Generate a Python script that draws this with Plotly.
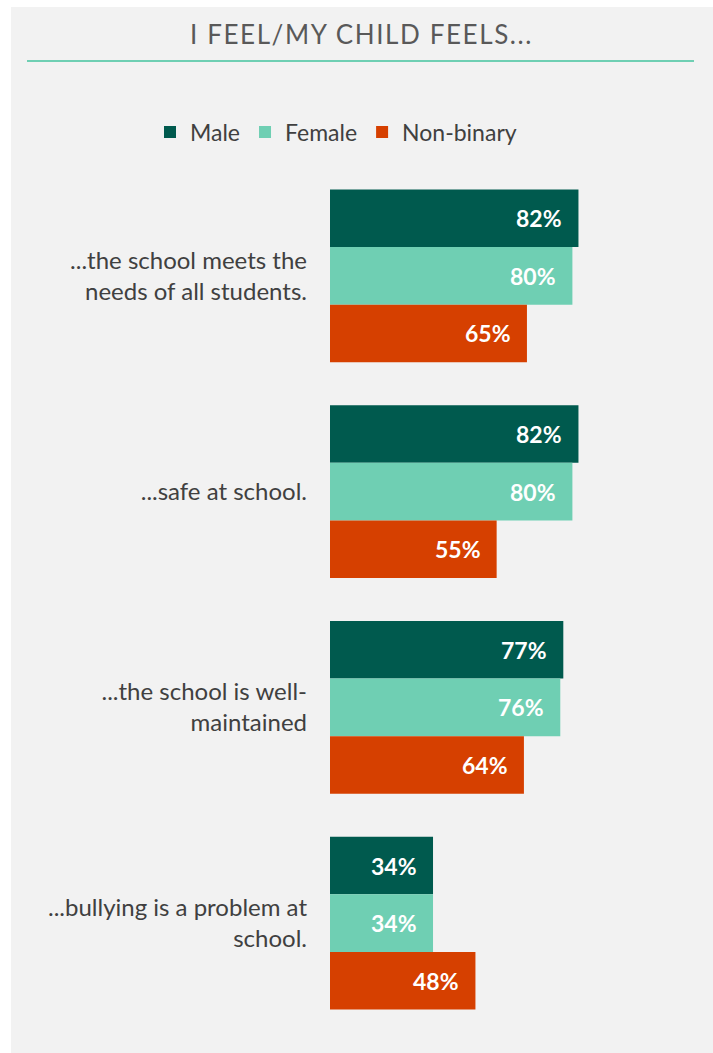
import plotly.graph_objects as go

categories = ["...the school meets the<br>needs of all students.",
              "...safe at school.",
              "...the school is well-<br>maintained",
              "...bullying is a problem at<br>school."]
series_names = ["Male", "Female", "Non-binary"]
male = [82, 82, 77, 34]
female = [80, 80, 76, 34]
nonbinary = [65, 55, 64, 48]
colors = ["#005a4e", "#6fcfb3", "#d64000"]
title_text = "I FEEL/MY CHILD FEELS..."

W, H = 713, 1053
ML, MR, MT, MB = 330, 80, 168, 22
PW, PH = W - ML - MR, H - MT - MB

def px(x):
    return (x - ML) / PW

def py(y):
    return (H - MB - y) / PH

FONT = "Lato, 'Open Sans', sans-serif"

fig = go.Figure()
values = [male, female, nonbinary]
for name, vals, col in zip(series_names, values, colors):
    fig.add_trace(go.Bar(y=categories, x=vals, name=name, orientation="h",
                         marker=dict(color=col, line=dict(width=0)),
                         hoverinfo="skip"))

bargap = 0.2
n = len(series_names)
bw = (1 - bargap) / n
annotations = []
for j, vals in enumerate(values):
    for i, v in enumerate(vals):
        annotations.append(dict(x=v, y=i + (j - (n - 1) / 2) * bw, xref="x", yref="y",
                                text=f"<b>{v}%</b>", showarrow=False, xanchor="right",
                                xshift=-14, font=dict(family=FONT, size=23, color="white")))

annotations.append(dict(x=px(361), y=py(34), xref="paper", yref="paper",
                        text=f'<span style="letter-spacing:1.6px">{title_text}</span>',
                        showarrow=False, xanchor="center", yanchor="middle",
                        font=dict(family=FONT, size=26, color="#595959")))

shapes = [
    dict(type="rect", xref="paper", yref="paper", x0=px(11), x1=px(713), y0=py(7), y1=py(1053),
         fillcolor="#f2f2f2", line=dict(width=0), layer="below"),
    dict(type="line", xref="paper", yref="paper", x0=px(27), x1=px(694), y0=py(61), y1=py(61),
         line=dict(color="#6fcfb3", width=2)),
]

fig.update_layout(
    width=W, height=H,
    margin=dict(l=ML, r=MR, t=MT, b=MB, pad=0, autoexpand=False),
    paper_bgcolor="white", plot_bgcolor="rgba(0,0,0,0)",
    barmode="group", bargap=bargap, bargroupgap=0,
    showlegend=True,
    legend=dict(orientation="h", x=px(150), y=py(132), xanchor="left", yanchor="middle",
                font=dict(family=FONT, size=23, color="#404040"), bgcolor="rgba(0,0,0,0)",
                traceorder="normal"),
    xaxis=dict(range=[0, 100], visible=False, fixedrange=True),
    yaxis=dict(autorange="reversed", showgrid=False, zeroline=False, showline=False,
               ticks="", ticklabelstandoff=22,
               tickfont=dict(family=FONT, size=24, color="#404040")),
    annotations=annotations,
    shapes=shapes,
    font=dict(family=FONT),
)

fig.write_html("out.html")
